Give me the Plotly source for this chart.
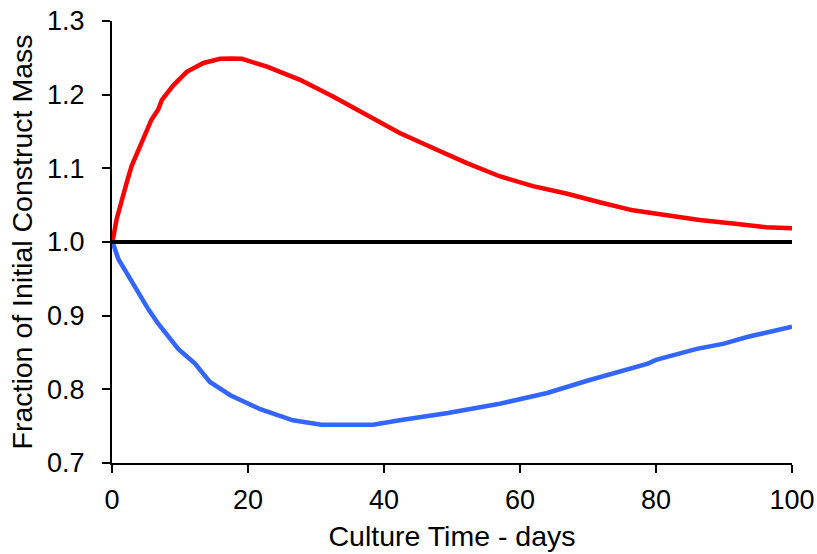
import plotly.graph_objects as go

# Culture time (days) and fraction of initial construct mass
red_x = [0, 0.19, 0.68, 1.41, 2.14, 2.88, 3.86, 4.84, 5.8, 6.8, 7.34, 9.05, 11.0, 13.45,
         15.9, 17.5, 19.1, 22.8, 27.65, 32.5, 37.4, 42.3, 47.2, 52.1, 57.0, 61.9, 66.8,
         70.2, 71.7, 76.6, 81.5, 86.4, 91.3, 96.2, 100]
red_y = [1.0, 1.006, 1.031, 1.058, 1.080, 1.103, 1.125, 1.143, 1.166, 1.180, 1.193, 1.213,
         1.231, 1.243, 1.2486, 1.249, 1.2486, 1.238, 1.2202, 1.1976, 1.1728, 1.148, 1.1277,
         1.1074, 1.0893, 1.0758, 1.0659, 1.0587, 1.054, 1.043, 1.036, 1.030, 1.025, 1.020,
         1.0185]

blue_x = [0, 0.19, 0.93, 2.39, 3.86, 5.33, 6.8, 8.27, 9.74, 12.2, 14.4, 17.4, 21.8, 26.6,
          30.8, 34.6, 38.4, 42.3, 49.4, 56.8, 60, 64, 70, 78.8, 80, 86, 90, 93.4, 100]
blue_y = [1.0, 0.997, 0.977, 0.954, 0.932, 0.909, 0.889, 0.871, 0.855, 0.835, 0.810, 0.792,
          0.773, 0.758, 0.752, 0.752, 0.752, 0.758, 0.768, 0.780, 0.787, 0.795, 0.812, 0.835,
          0.840, 0.855, 0.862, 0.871, 0.885]

base_x = [0, 100]
base_y = [1.0, 1.0]

x_ticks = [0, 20, 40, 60, 80, 100]
y_ticks = [0.7, 0.8, 0.9, 1.0, 1.1, 1.2, 1.3]

FONT = "Liberation Sans, Arial, sans-serif"

fig = go.Figure()
fig.add_trace(go.Scatter(x=red_x, y=red_y, mode="lines",
                         line=dict(color="#FF0000", width=4.5), showlegend=False))
fig.add_trace(go.Scatter(x=blue_x, y=blue_y, mode="lines",
                         line=dict(color="#3366FF", width=4.5), showlegend=False))
fig.add_trace(go.Scatter(x=base_x, y=base_y, mode="lines",
                         line=dict(color="#000000", width=4), showlegend=False))

fig.update_layout(
    width=817, height=554,
    margin=dict(l=112, r=25, t=21, b=91),
    paper_bgcolor="white", plot_bgcolor="white",
    font=dict(family=FONT, size=27, color="black"),
    xaxis=dict(
        range=[0, 100], tickvals=x_ticks, ticktext=[str(v) for v in x_ticks],
        showgrid=False, zeroline=False, showline=True, linecolor="black", linewidth=2,
        ticks="outside", ticklen=8, tickwidth=2, tickcolor="black",
        ticklabelstandoff=4, ticklabeloverflow="allow",
        title=dict(text="Culture Time - days", standoff=12, font=dict(size=28.5)),
        automargin=False,
    ),
    yaxis=dict(
        range=[0.7, 1.3], tickvals=y_ticks, ticktext=[f"{v:.1f}" for v in y_ticks],
        showgrid=False, zeroline=False, showline=True, linecolor="black", linewidth=2,
        ticks="outside", ticklen=8, tickwidth=2, tickcolor="black",
        ticklabelstandoff=12, ticklabeloverflow="allow",
        title=dict(text="Fraction of Initial Construct Mass", standoff=6, font=dict(size=28.5)),
        automargin=False,
    ),
)

fig.write_html(
    "out.html",
    config={"displayModeBar": False},
    post_script="document.body.style.margin='0';document.documentElement.style.overflow='hidden';",
)
